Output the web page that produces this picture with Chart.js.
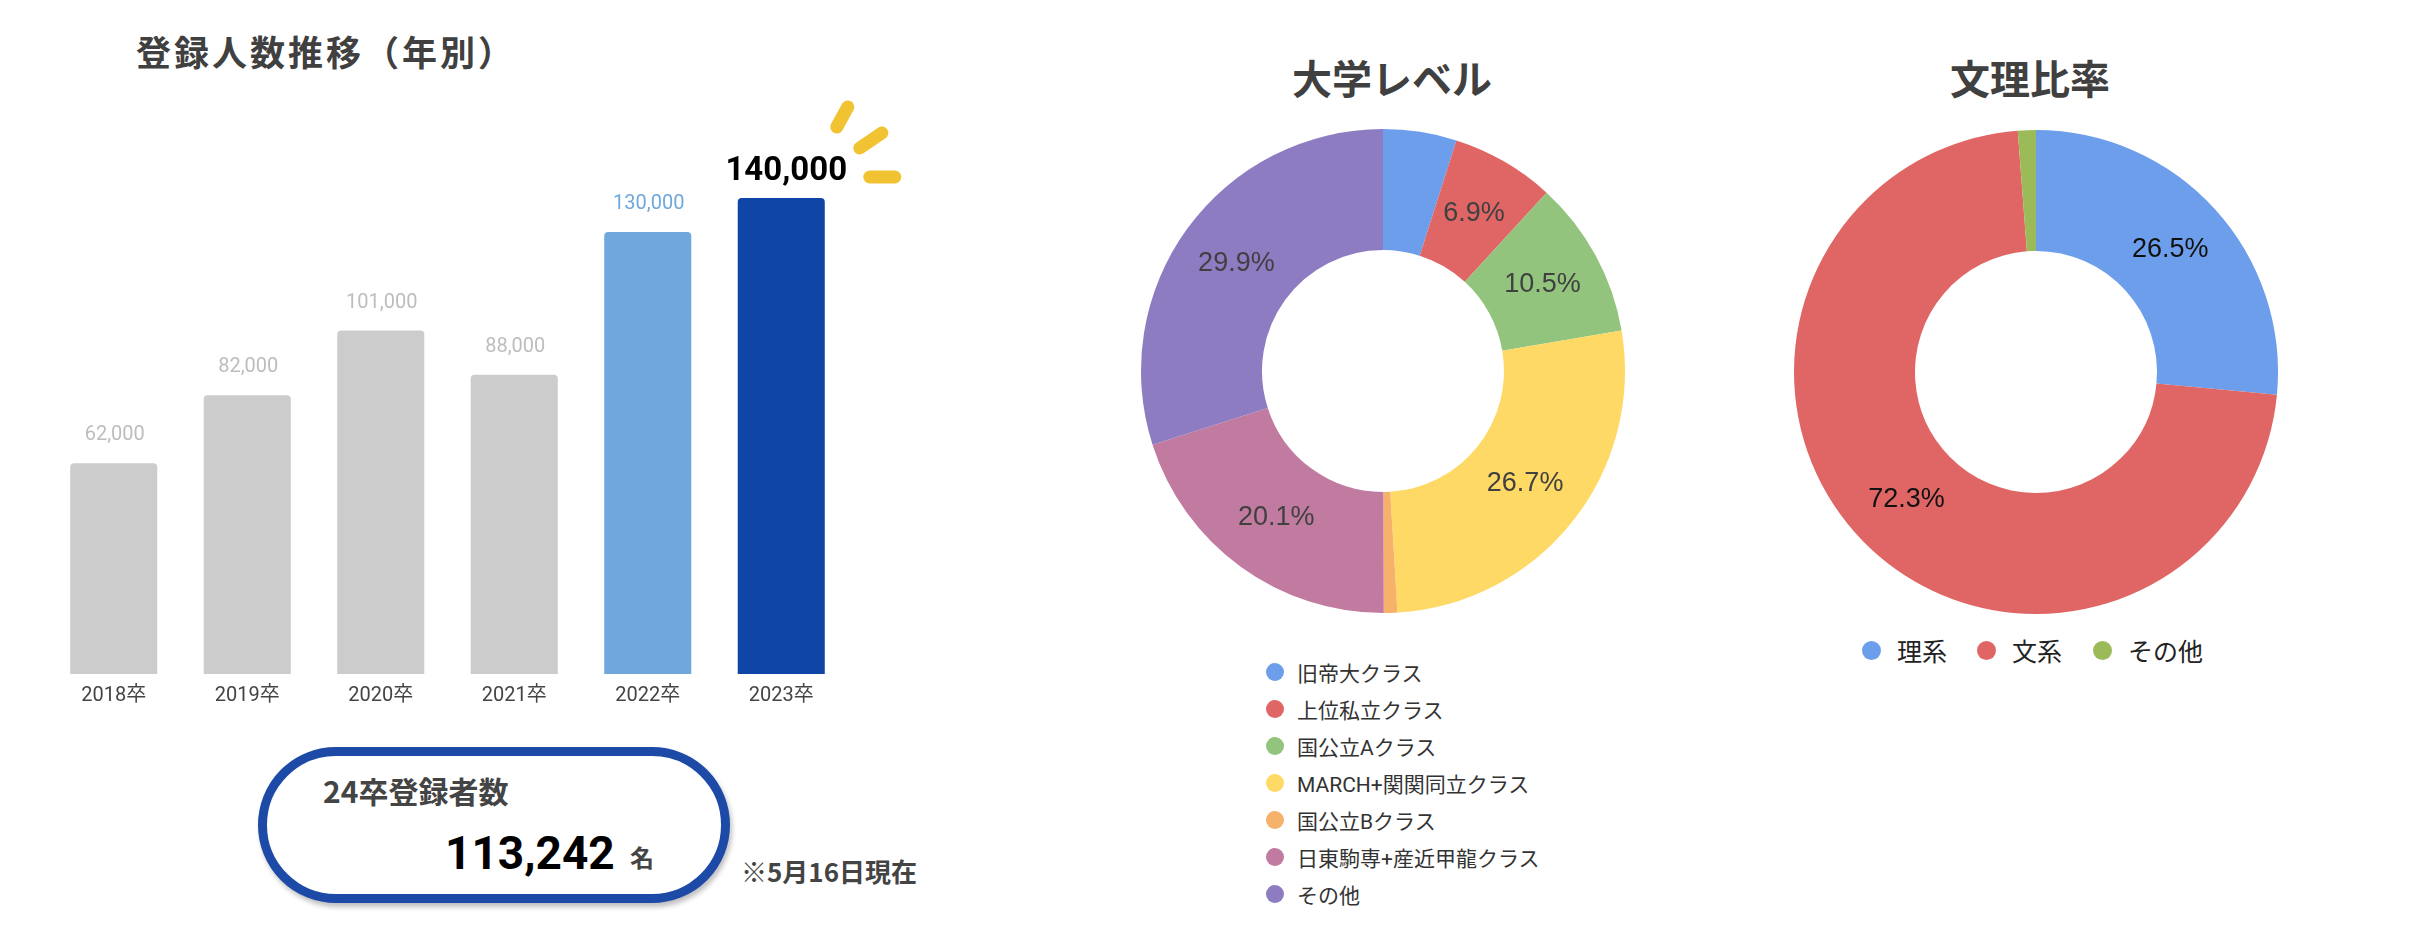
<!DOCTYPE html>
<html lang="ja">
<head>
<meta charset="utf-8">
<title>登録人数推移</title>
<script src="https://cdn.jsdelivr.net/npm/chart.js@4.4.1/dist/chart.umd.min.js"></script>
<style>
  html, body { margin: 0; padding: 0; background: #fff; }
  body { width: 2416px; height: 930px; position: relative; overflow: hidden;
         font-family: Roboto, "Noto Sans CJK JP", sans-serif; }
  .abs { position: absolute; white-space: nowrap; }
  .title { font-family: "Noto Sans CJK JP", sans-serif; font-weight: bold; color: #404040; }
  .legend-row { position: absolute; display: flex; align-items: center; white-space: nowrap; }
  .dot { display: inline-block; border-radius: 50%; }
  #box { position: absolute; left: 258px; top: 747px; width: 472px; height: 156px;
         box-sizing: border-box; border: 9px solid #1d49a7; border-radius: 78px;
         box-shadow: 2px 4px 5px rgba(0,0,0,0.25); background: #fff; }
</style>
</head>
<body>

<div class="abs title" style="left:136px; top:26px; font-size:35px; line-height:50px; letter-spacing:3px;">登録人数推移（年別）</div>
<div class="abs title" style="left:1192px; width:400px; text-align:center; top:53px; font-size:40px; line-height:48px;">大学レベル</div>
<div class="abs title" style="left:1830px; width:400px; text-align:center; top:53px; font-size:40px; line-height:48px;">文理比率</div>

<canvas id="barChart" class="abs" width="940" height="740" style="left:0; top:0;"></canvas>
<canvas id="levelChart" class="abs" width="520" height="520" style="left:1123px; top:111px;"></canvas>
<canvas id="ratioChart" class="abs" width="520" height="520" style="left:1776px; top:112px;"></canvas>

<div id="levelLegend"></div>
<div id="ratioLegend"></div>

<div id="box"></div>
<div class="abs title" style="left:323px; top:770px; font-size:30px; line-height:40px; color:#444;">24卒登録者数</div>
<div class="abs" style="left:445px; top:825px; font-size:46px; line-height:56px; font-weight:bold; color:#000;">113,242</div>
<div class="abs title" style="left:630px; top:841px; font-size:24px; line-height:32px; color:#444;">名</div>
<div class="abs title" style="left:741px; top:854px; font-size:26px; line-height:34px; color:#444;">※5月16日現在</div>

<script>
// 登録人数（年別）
const barLabels = ["2018卒", "2019卒", "2020卒", "2021卒", "2022卒", "2023卒"];
const barValues = [62000, 82000, 101000, 88000, 130000, 140000];
const barColors = ["#cccccc", "#cccccc", "#cccccc", "#cccccc", "#6fa8dc", "#0f45a6"];
const barTextColors = ["#bdbdbd", "#bdbdbd", "#bdbdbd", "#bdbdbd", "#6fa8dc", "#000000"];

// 大学レベル（%）
const levelLabels = ["旧帝大クラス", "上位私立クラス", "国公立Aクラス", "MARCH+関関同立クラス", "国公立Bクラス", "日東駒専+産近甲龍クラス", "その他"];
const levelValues = [4.9, 6.9, 10.5, 26.7, 0.9, 20.1, 29.9];
const levelColors = ["#6d9eeb", "#e06666", "#93c47d", "#ffd966", "#f6b26b", "#c27ba0", "#8e7cc3"];

// 文理比率（%）
const ratioLabels = ["理系", "文系", "その他"];
const ratioValues = [26.5, 72.3, 1.2];
const ratioColors = ["#6d9eeb", "#e06666", "#9bbb59"];

Chart.defaults.font.family = 'Roboto, "Noto Sans CJK JP", sans-serif';

// value labels above bars
const barValuePlugin = {
  id: "barValues",
  afterDatasetsDraw(chart) {
    const ctx = chart.ctx;
    const meta = chart.getDatasetMeta(0);
    ctx.save();
    ctx.textAlign = "center";
    ctx.textBaseline = "middle";
    meta.data.forEach((bar, i) => {
      const last = i === barValues.length - 1;
      ctx.font = last ? 'bold 33px Roboto, sans-serif' : '20px Roboto, sans-serif';
      ctx.fillStyle = barTextColors[i];
      ctx.fillText(barValues[i].toLocaleString("en-US"), bar.x + (last ? 5 : 1), bar.y - (last ? 26 : 28));
    });
    ctx.restore();
  }
};

// yellow sparkle next to the latest bar
const sparklePlugin = {
  id: "sparkle",
  afterDraw(chart) {
    const meta = chart.getDatasetMeta(0);
    const bar = meta.data[meta.data.length - 1];
    const rx = bar.x + bar.width / 2;
    const ty = bar.y;
    const strokes = [[12, -71, 23, -91], [35, -50, 57, -65], [45, -21, 70, -21]];
    const ctx = chart.ctx;
    ctx.save();
    ctx.strokeStyle = "#f1c232";
    ctx.lineWidth = 13;
    ctx.lineCap = "round";
    strokes.forEach(s => {
      ctx.beginPath();
      ctx.moveTo(rx + s[0], ty + s[1]);
      ctx.lineTo(rx + s[2], ty + s[3]);
      ctx.stroke();
    });
    ctx.restore();
  }
};

// percentage labels in the middle of the ring
function sliceLabels(color) {
  return {
    id: "sliceLabels",
    afterDatasetsDraw(chart) {
      const ctx = chart.ctx;
      const values = chart.data.datasets[0].data;
      ctx.save();
      ctx.font = '27px "Liberation Sans", Arial, sans-serif';
      ctx.fillStyle = color;
      ctx.textAlign = "center";
      ctx.textBaseline = "middle";
      chart.getDatasetMeta(0).data.forEach((arc, i) => {
        if (values[i] < 5) return;
        const p = arc.getProps(["x", "y", "startAngle", "endAngle", "innerRadius", "outerRadius"], true);
        const mid = (p.startAngle + p.endAngle) / 2;
        const r = (p.innerRadius + p.outerRadius) / 2;
        ctx.fillText(values[i].toFixed(1) + "%", p.x + Math.cos(mid) * r, p.y + Math.sin(mid) * r);
      });
      ctx.restore();
    }
  };
}

new Chart(document.getElementById("barChart"), {
  type: "bar",
  data: {
    labels: barLabels,
    datasets: [{
      data: barValues,
      backgroundColor: barColors,
      borderRadius: 4,
      categoryPercentage: 1,
      barPercentage: 0.652
    }]
  },
  options: {
    responsive: false,
    animation: false,
    layout: { padding: { left: 47, right: 92, top: 130, bottom: 26 } },
    plugins: { legend: { display: false }, tooltip: { enabled: false } },
    scales: {
      x: {
        grid: { display: false, drawTicks: false },
        border: { display: false },
        ticks: { color: "#444", font: { size: 20 }, padding: 10 },
        afterFit(scale) { scale.height = 40; }
      },
      y: { display: false, min: 0, max: 160000 }
    }
  },
  plugins: [barValuePlugin, sparklePlugin]
});

function donut(id, labels, values, colors, textColor) {
  return new Chart(document.getElementById(id), {
    type: "doughnut",
    data: {
      labels: labels,
      datasets: [{ data: values, backgroundColor: colors, borderWidth: 0 }]
    },
    options: {
      responsive: false,
      animation: false,
      cutout: "50%",
      layout: { padding: 18 },
      plugins: { legend: { display: false }, tooltip: { enabled: false } }
    },
    plugins: [sliceLabels(textColor)]
  });
}

donut("levelChart", levelLabels, levelValues, levelColors, "#404040");
donut("ratioChart", ratioLabels, ratioValues, ratioColors, "#111111");

// vertical legend for 大学レベル
const levelLegend = document.getElementById("levelLegend");
levelLabels.forEach((name, i) => {
  const row = document.createElement("div");
  row.className = "legend-row";
  row.style.left = "1266px";
  row.style.top = (672 + 37 * i - 15) + "px";
  row.style.height = "30px";
  row.style.fontSize = "21px";
  row.style.color = "#333";
  row.innerHTML = '<span class="dot" style="width:18px;height:18px;background:' + levelColors[i] +
    ';margin-right:13px"></span><span>' + name + '</span>';
  levelLegend.appendChild(row);
});

// horizontal legend for 文理比率
const ratioLegend = document.getElementById("ratioLegend");
const ratioX = [1862, 1977, 2093];
ratioLabels.forEach((name, i) => {
  const row = document.createElement("div");
  row.className = "legend-row";
  row.style.left = ratioX[i] + "px";
  row.style.top = "632px";
  row.style.height = "36px";
  row.style.fontSize = "25px";
  row.style.color = "#222";
  row.innerHTML = '<span class="dot" style="width:19px;height:19px;background:' + ratioColors[i] +
    ';margin-right:16px"></span><span>' + name + '</span>';
  ratioLegend.appendChild(row);
});
</script>
</body>
</html>
